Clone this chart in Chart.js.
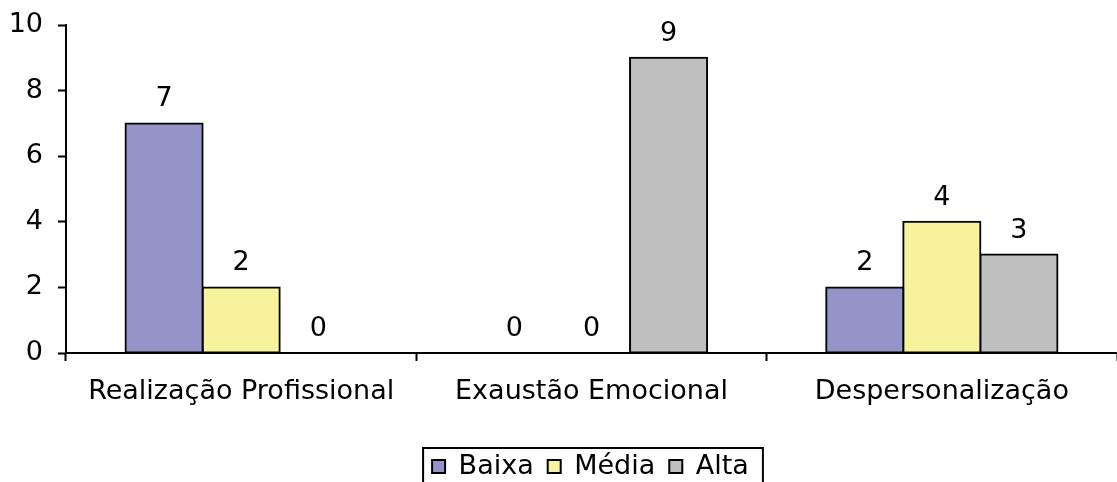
<!DOCTYPE html>
<html>
<head>
<meta charset="utf-8">
<script src="https://cdn.jsdelivr.net/npm/chart.js@4/dist/chart.umd.min.js"></script>
<style>
  html, body { margin: 0; padding: 0; background: #fff; }
  #wrap { width: 1117px; height: 482px; }
</style>
</head>
<body>
<div id="wrap"><canvas id="chart" width="1117" height="482"></canvas></div>
<script>
const categories = ['Realização Profissional', 'Exaustão Emocional', 'Despersonalização'];
const seriesNames = ['Baixa', 'Média', 'Alta'];
const baixa = [7, 0, 2];
const media = [2, 0, 4];
const alta = [0, 9, 3];
const yTicks = [0, 2, 4, 6, 8, 10];

const colors = ['#9494C8', '#F6F39C', '#C0C0C0'];
const FONT = 'DejaVu Sans, Verdana, sans-serif';
const SIZE = 27;

// numbers above each bar
const valueLabels = {
    id: 'valueLabels',
    afterDatasetsDraw(chart) {
        const ctx = chart.ctx;
        ctx.save();
        ctx.font = SIZE + 'px ' + FONT;
        ctx.fillStyle = '#000';
        ctx.textAlign = 'center';
        ctx.textBaseline = 'middle';
        chart.data.datasets.forEach((ds, i) => {
            chart.getDatasetMeta(i).data.forEach((bar, j) => {
                ctx.fillText(String(ds.data[j]), bar.x, bar.y - 24);
            });
        });
        ctx.restore();
    }
};

// move legend to where it sits in the original and frame it
const legendFrame = {
    id: 'legendFrame',
    afterLayout(chart) {
        const lg = chart.legend;
        const dx = 32, dy = 8;
        lg.left += dx; lg.right += dx;
        lg.top += dy; lg.bottom += dy;
        lg.legendHitBoxes.forEach(b => { b.left += dx; b.top += dy; });
    },
    afterDraw(chart) {
        const boxes = chart.legend.legendHitBoxes;
        if (!boxes.length) return;
        let l = Infinity, r = -Infinity, t = Infinity;
        boxes.forEach(h => {
            l = Math.min(l, h.left); r = Math.max(r, h.left + h.width);
            t = Math.min(t, h.top);
        });
        const ctx = chart.ctx;
        ctx.save();
        ctx.strokeStyle = '#000';
        ctx.lineWidth = 2;
        ctx.strokeRect(l - 9, t - 13, r - l + 23, 70);
        ctx.restore();
    }
};

new Chart(document.getElementById('chart'), {
    type: 'bar',
    data: {
        labels: categories,
        datasets: [
            { label: seriesNames[0], data: baixa, backgroundColor: colors[0] },
            { label: seriesNames[1], data: media, backgroundColor: colors[1] },
            { label: seriesNames[2], data: alta, backgroundColor: colors[2] }
        ].map(d => Object.assign(d, { borderColor: '#000', borderWidth: 2, borderSkipped: false, inflateAmount: 1 }))
    },
    options: {
        responsive: false,
        animation: false,
        devicePixelRatio: 1,
        layout: { padding: { top: 25, left: 0, right: 0, bottom: 0 } },
        datasets: { bar: { categoryPercentage: 0.66, barPercentage: 1 } },
        scales: {
            x: {
                grid: { drawOnChartArea: false, offset: true, tickLength: 8, tickColor: '#000', tickWidth: 2 },
                border: { color: '#000', width: 2 },
                ticks: { color: '#000', font: { family: FONT, size: SIZE }, padding: 15, maxRotation: 0 },
                afterFit(scale) { scale.height = 78; }
            },
            y: {
                min: 0, max: 10,
                afterBuildTicks(scale) { scale.ticks = yTicks.map(v => ({ value: v })); },
                grid: { drawOnChartArea: false, tickLength: 8, tickColor: '#000', tickWidth: 2 },
                border: { color: '#000', width: 2 },
                ticks: { color: '#000', font: { family: FONT, size: SIZE }, padding: 15 },
                afterFit(scale) {
                    scale.width = 66;
                    scale.paddingTop = 0;
                    scale.paddingBottom = 0;
                }
            }
        },
        plugins: {
            legend: {
                position: 'bottom',
                labels: {
                    color: '#000',
                    font: { family: FONT, size: SIZE },
                    boxWidth: 13, boxHeight: 13,
                    padding: 14
                }
            },
            tooltip: { enabled: false }
        }
    },
    plugins: [valueLabels, legendFrame]
});
</script>
</body>
</html>
